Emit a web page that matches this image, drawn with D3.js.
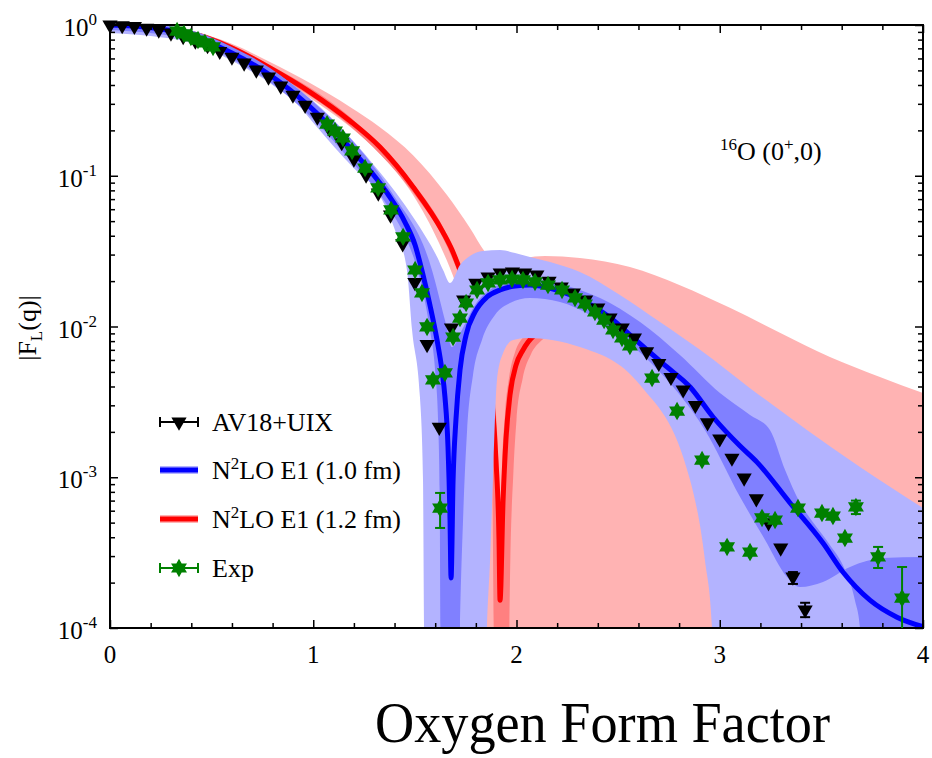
<!DOCTYPE html>
<html>
<head>
<meta charset="utf-8">
<script src="https://cdn.jsdelivr.net/npm/d3@7"></script>
<style>
body { margin: 0; background: #fff; }
text { font-family: "Liberation Serif", "Times New Roman", serif; fill: #000; }
</style>
</head>
<body>
<svg id="chart" width="932" height="758"></svg>
<script>
// tick labels
const xTicks = [0, 1, 2, 3, 4];
const yTicks = [1e-4, 1e-3, 1e-2, 1e-1, 1];
const yTickExp = ["-4", "-3", "-2", "-1", "0"];

// AV18+UIX points [q, |F|]
const av18 = [
  [0.00,1.0],[0.06,0.992],[0.12,0.980],[0.18,0.955],[0.24,0.927],[0.30,0.885],[0.36,0.839],
  [0.42,0.783],[0.48,0.731],[0.54,0.669],[0.60,0.613],[0.66,0.560],[0.72,0.503],[0.78,0.452],
  [0.84,0.394],[0.90,0.343],[0.96,0.294],[1.02,0.245],[1.08,0.204],[1.14,0.166],[1.20,0.129],
  [1.26,0.101],[1.32,0.077],[1.38,0.055],[1.44,0.0354],[1.50,0.0196],[1.56,0.0076],[1.62,0.00215],
  [1.68,0.0098],[1.74,0.015],[1.80,0.0194],[1.86,0.0213],[1.92,0.0227],[1.98,0.023],[2.04,0.0227],
  [2.10,0.022],[2.16,0.020],[2.22,0.0183],[2.28,0.0167],[2.34,0.015],[2.40,0.0133],[2.46,0.0114],
  [2.52,0.0098],[2.58,0.0084],[2.64,0.0068],[2.70,0.0057],[2.76,0.0046],[2.82,0.0038],[2.88,0.0030],
  [2.94,0.0023],[3.00,0.0018],[3.06,0.00134],[3.12,0.00099],[3.18,0.00072],[3.24,0.0005],
  [3.30,0.00034],[3.36,0.000218],[3.42,0.000132]
];
const av18Err = [[3.36,0.000196,0.000235],[3.42,0.000118,0.000147]];

// experimental points [q, |F|]
const expData = [
  [0.330,0.912],[0.364,0.872],[0.398,0.833],[0.433,0.795],[0.467,0.760],[0.507,0.715],
  [1.068,0.220],[1.107,0.198],[1.146,0.178],[1.191,0.146],[1.255,0.1125],[1.319,0.083],
  [1.383,0.0593],[1.442,0.0393],[1.501,0.0237],[1.535,0.0167],[1.560,0.00993],[1.589,0.00442],
  [1.648,0.00492],[1.624,0.000625],
  [1.688,0.00851],[1.722,0.01138],[1.752,0.01432],[1.806,0.01746],[1.860,0.01944],[1.919,0.02035],
  [1.978,0.02066],[2.032,0.02035],[2.091,0.01974],[2.155,0.01884],[2.224,0.01746],[2.288,0.01546],
  [2.337,0.0141],[2.386,0.01248],[2.431,0.01104],[2.475,0.00948],[2.519,0.00839],[2.558,0.00743],
  [2.667,0.00455],[2.790,0.00275],[2.913,0.0013],[3.036,0.000345],[3.149,0.000319],[3.208,0.000537],
  [3.272,0.00052],[3.385,0.000625],[3.503,0.000579],[3.557,0.000553],[3.616,0.000395],
  [3.670,0.000635],[3.779,0.000296],[3.897,0.000158]
];
const expErr = [[1.624,0.000461,0.000787],[3.670,0.00057,0.0007],[3.779,0.00025,0.000345],[3.897,0.00005,0.000254]];

// N2LO E1 (1.0 fm) central line and bands
const blueLine = [
  [0,1.0],[0.197,0.962],[0.394,0.858],[0.59,0.662],[0.787,0.466],[0.984,0.286],[1.181,0.153],
  [1.363,0.0769],[1.451,0.0493],[1.501,0.0347],[1.54,0.022],[1.574,0.0139],[1.609,0.00813],
  [1.633,0.00514],[1.648,0.00341],[1.663,0.00159],[1.673,0.00052],[1.678,0.000215],[1.688,0.00096],
  [1.702,0.0024],[1.722,0.00514],[1.752,0.00879],[1.796,0.01248],[1.855,0.0157],[1.919,0.01746],
  [1.993,0.01857],[2.066,0.01884],[2.14,0.01828],[2.214,0.01719],[2.312,0.01522],[2.475,0.01104],
  [2.558,0.00879],[2.642,0.00699],[2.74,0.00539],[2.854,0.00397],[2.967,0.00251],[3.1,0.00161],
  [3.183,0.00126],[3.346,0.000675],[3.508,0.000366],[3.606,0.000235],[3.739,0.000153],
  [3.872,0.000118],[4.0,0.000102]
];
const lbUpper = [
  [0,1.0],[0.2,0.98],[0.4,0.875],[0.6,0.69],[0.8,0.495],[1.033,0.286],[1.2,0.168],[1.3,0.117],
  [1.407,0.077],[1.5,0.051],[1.55,0.040],[1.609,0.029],[1.64,0.0235],[1.673,0.0194],[1.722,0.0256],
  [1.771,0.0294],[1.835,0.0317],[1.919,0.0322],[1.993,0.0307],[2.066,0.0289],[2.165,0.0268],
  [2.312,0.023],[2.509,0.0162],[2.706,0.0107],[2.903,0.007],[3.149,0.0039],[3.429,0.00206],
  [3.69,0.00117],[4.0,0.000625]
];
const lbLower = [
  [0,0.885],[0.2,0.845],[0.4,0.76],[0.6,0.58],[0.8,0.40],[0.935,0.286],[1.0,0.225],[1.2,0.112],
  [1.319,0.077],[1.402,0.0437],[1.461,0.0237],[1.486,0.0095],[1.525,0.0034],[1.54,0.00096],
  [1.545,0.0001],[1.555,3e-5],[1.845,3e-5],[1.855,0.0001],[1.870,0.000283],[1.884,0.00096],
  [1.904,0.00442],[1.934,0.00667],[1.983,0.00813],[2.052,0.00839],[2.312,0.00731],[2.608,0.00409],
  [2.854,0.00096],[2.927,0.000283],[2.962,0.0001],[2.975,3e-5],[4.0,3e-5]
];
const mbUpper = [
  [0,1.0],[0.2,1.0],[0.394,0.927],[0.59,0.726],[0.787,0.519],[0.984,0.323],[1.181,0.178],
  [1.387,0.077],[1.584,0.0237],[1.648,0.011],[1.683,0.0073],[1.732,0.0095],[1.796,0.0139],
  [1.870,0.0175],[1.968,0.0197],[2.066,0.0204],[2.214,0.0191],[2.411,0.01546],[2.608,0.0107],
  [2.804,0.00647],[3.001,0.00362],[3.149,0.00259],[3.247,0.00206],[3.321,0.00112],[3.395,0.000675],
  [3.469,0.000482],[3.542,0.000355],[3.616,0.000243],[3.665,0.000153],[3.69,0.0001],[3.71,3e-5],[4.0,3e-5]
];
const mbLower = [
  [0,0.927],[0.197,0.885],[0.394,0.795],[0.59,0.604],[0.787,0.419],[0.984,0.249],[1.181,0.127],
  [1.363,0.064],[1.451,0.0397],[1.501,0.0268],[1.54,0.0169],[1.574,0.0095],[1.60,0.005],
  [1.615,0.0022],[1.622,0.0008],[1.626,0.0001],[1.632,3e-5],[1.715,3e-5],[1.722,0.0001],
  [1.737,0.00052],[1.757,0.00206],[1.786,0.00477],[1.830,0.00813],[1.894,0.0119],[1.968,0.0143],
  [2.066,0.01546],[2.214,0.01455],[2.362,0.0119],[2.509,0.00865],[2.657,0.00582],[2.804,0.00351],
  [2.927,0.00206],[3.1,0.00074],[3.223,0.000384],[3.331,0.000218],[3.395,0.000187],[3.508,0.000202],
  [3.641,0.000254],[3.803,0.000291],[4.0,0.000296]
];

// N2LO E1 (1.2 fm) central line and bands
const redLine = [
  [0,1.0],[0.197,0.970],[0.394,0.885],[0.59,0.715],[0.787,0.519],[0.984,0.359],[1.181,0.231],
  [1.328,0.155],[1.491,0.0843],[1.638,0.0423],[1.683,0.0322],[1.722,0.0237],[1.796,0.01286],
  [1.845,0.00699],[1.879,0.00325],[1.899,0.0013],[1.914,0.000384],[1.919,0.000153],[1.934,0.000707],
  [1.948,0.00177],[1.968,0.00351],[1.998,0.00556],[2.032,0.00699],[2.057,0.00789],[2.14,0.00948],
  [2.312,0.0102],[2.509,0.0088],[2.903,0.0044],[3.395,0.0015],[4.0,0.00053]
];
const pinkUpper = [
  [0,1.0],[0.394,0.905],[0.59,0.760],[0.787,0.568],[0.984,0.412],[1.181,0.286],[1.328,0.210],
  [1.491,0.137],[1.658,0.0745],[1.771,0.045],[1.845,0.0312],[1.904,0.0258],
  [1.968,0.0256],[2.042,0.0285],[2.14,0.0294],[2.312,0.0285],[2.558,0.0248],[2.804,0.0188],
  [3.05,0.0133],[3.296,0.0091],[3.542,0.00628],[3.788,0.00463],[4.0,0.00362]
];
const pinkLower = [
  [0,0.97],[0.394,0.820],[0.59,0.662],[0.787,0.473],[0.984,0.328],[1.181,0.211],[1.328,0.140],
  [1.491,0.0744],[1.620,0.0355],[1.700,0.0195],[1.771,0.0095],[1.801,0.00325],[1.820,0.0007],
  [1.830,0.0001],[1.84,3e-5],[4.0,3e-5]
];
const darkPinkUpper = [
  [0,1.0],[0.394,0.912],[0.787,0.543],[1.181,0.245],[1.491,0.0894],[1.638,0.0457],[1.722,0.026],
  [1.796,0.0145],[1.845,0.0084],[1.879,0.00442],[1.904,0.00206],[1.914,0.00082],[1.921,0.000283],
  [1.929,0.00112],[1.943,0.00259],[1.963,0.00455],[1.993,0.00678],[2.032,0.0085],[2.14,0.011],
  [2.312,0.0119],[2.509,0.0102],[2.903,0.00514],[3.395,0.00177],[4.0,0.00061]
];
const darkPinkLower = [
  [0,0.97],[0.394,0.858],[0.787,0.488],[1.181,0.214],[1.491,0.077],[1.638,0.0387],[1.722,0.0213],
  [1.796,0.0114],[1.835,0.00678],[1.860,0.00351],[1.879,0.0013],[1.894,3e-5],[1.958,3e-5],
  [1.970,0.0003],[1.985,0.0011],[2.0,0.0024],[2.03,0.0045],[2.07,0.0065],[2.12,0.008],[2.2,0.0092],
  [2.312,0.0095],[2.509,0.0082],[2.903,0.0041],[3.395,0.0014],[4.0,0.0005]
];

const FONT = '"Liberation Serif", "Times New Roman", serif';
const svg = d3.select("#chart");
const pL = 110, pR = 923, pT = 25, pB = 628;
const x = d3.scaleLinear().domain([0, 4]).range([pL, pR]);
const y = d3.scaleLog().domain([1e-4, 1]).range([pB, pT]);

svg.append("defs").append("clipPath").attr("id", "plotclip")
  .append("rect").attr("x", pL).attr("y", pT).attr("width", pR - pL).attr("height", pB - pT);

const plot = svg.append("g").attr("clip-path", "url(#plotclip)");
const line = d3.line().x(d => x(d[0])).y(d => y(d[1])).curve(d3.curveMonotoneX);
// closed shape: upper edge left to right, lower edge back
function band(upper, lower) {
  return line(upper) + "L" + line(lower.slice().reverse()).slice(1) + "Z";
}

plot.append("path").attr("d", band(pinkUpper, pinkLower)).attr("fill", "#ffb3b3");
plot.append("path").attr("d", band(darkPinkUpper, darkPinkLower)).attr("fill", "#ff8080");
plot.append("path").attr("d", line(redLine)).attr("fill", "none")
  .attr("stroke", "#ff0000").attr("stroke-width", 5);
plot.append("path").attr("d", band(lbUpper, lbLower)).attr("fill", "#b3b3ff");
plot.append("path").attr("d", band(mbUpper, mbLower)).attr("fill", "#8080ff");
plot.append("path").attr("d", line(blueLine)).attr("fill", "none")
  .attr("stroke", "#0000ff").attr("stroke-width", 5);

// ticks, all four sides pointing in
const xMinor = d3.range(1, 20).map(i => i * 0.2).filter(v => Math.abs(v - Math.round(v)) > 1e-6);
const yMinor = [];
[-4, -3, -2, -1].forEach(e => { for (let k = 2; k <= 9; k++) yMinor.push(k * Math.pow(10, e)); });

function ticks(axis, tr) {
  svg.append("g").attr("transform", tr).call(axis)
    .call(g => g.select(".domain").remove())
    .call(g => g.selectAll("line").attr("stroke", "#000").attr("stroke-width", 1.5));
}
ticks(d3.axisBottom(x).tickValues(xTicks).tickSize(-8).tickFormat(""), `translate(0,${pB})`);
ticks(d3.axisBottom(x).tickValues(xMinor).tickSize(-5).tickFormat(""), `translate(0,${pB})`);
ticks(d3.axisTop(x).tickValues(xTicks).tickSize(-8).tickFormat(""), `translate(0,${pT})`);
ticks(d3.axisTop(x).tickValues(xMinor).tickSize(-5).tickFormat(""), `translate(0,${pT})`);
ticks(d3.axisLeft(y).tickValues(yTicks).tickSize(-8).tickFormat(""), `translate(${pL},0)`);
ticks(d3.axisLeft(y).tickValues(yMinor).tickSize(-5).tickFormat(""), `translate(${pL},0)`);
ticks(d3.axisRight(y).tickValues(yTicks).tickSize(-8).tickFormat(""), `translate(${pR},0)`);
ticks(d3.axisRight(y).tickValues(yMinor).tickSize(-5).tickFormat(""), `translate(${pR},0)`);

svg.append("rect").attr("x", pL).attr("y", pT).attr("width", pR - pL).attr("height", pB - pT)
  .attr("fill", "none").attr("stroke", "#000").attr("stroke-width", 2);

const txt = (sel, size) => sel.append("text").style("font-family", FONT).style("font-size", size + "px");

// tick labels
xTicks.forEach(v => txt(svg, 25).attr("x", x(v)).attr("y", 663).attr("text-anchor", "middle").text(v));
yTicks.forEach((v, i) => {
  const t = txt(svg, 25).attr("x", 97).attr("y", y(v) + 11).attr("text-anchor", "end");
  t.append("tspan").text("10");
  t.append("tspan").attr("dy", -11).style("font-size", "17px").text(yTickExp[i]);
});

// axis title
const yt = txt(svg, 26).attr("transform", "translate(36,328) rotate(-90)").attr("text-anchor", "middle");
yt.append("tspan").text("|F");
yt.append("tspan").attr("dy", 6).style("font-size", "17px").text("L");
yt.append("tspan").attr("dy", -6).text("(q)|");

// nucleus label
const nl = txt(svg, 26).attr("x", 720).attr("y", 160);
nl.append("tspan").attr("dy", -10).style("font-size", "17px").text("16");
nl.append("tspan").attr("dy", 10).text("O (0");
nl.append("tspan").attr("dy", -10).style("font-size", "17px").text("+");
nl.append("tspan").attr("dy", 10).text(",0)");

// markers
const tri = d3.symbol().type(d3.symbolTriangle).size(100);
const starType = {
  draw(ctx, size) {
    const R = Math.sqrt(size) / 2, r = R / Math.sqrt(3);
    for (let k = 0; k < 12; k++) {
      const a = -Math.PI / 2 + k * Math.PI / 6, rr = k % 2 ? r : R;
      if (k === 0) ctx.moveTo(rr * Math.cos(a), rr * Math.sin(a));
      else ctx.lineTo(rr * Math.cos(a), rr * Math.sin(a));
    }
    ctx.closePath();
  }
};
const star = d3.symbol().type(starType).size(340);

function errBars(g, data, color) {
  data.forEach(d => {
    const cx = x(d[0]);
    g.append("line").attr("x1", cx).attr("x2", cx).attr("y1", y(d[1])).attr("y2", y(d[2]))
      .attr("stroke", color).attr("stroke-width", 2);
    [d[1], d[2]].forEach(v => g.append("line").attr("x1", cx - 5).attr("x2", cx + 5)
      .attr("y1", y(v)).attr("y2", y(v)).attr("stroke", color).attr("stroke-width", 2));
  });
}
const marks = svg.append("g");
const errClip = marks.append("g").attr("clip-path", "url(#plotclip)");
errBars(errClip, av18Err, "#000");
marks.selectAll(".av").data(av18).enter().append("path")
  .attr("d", tri).attr("fill", "#000")
  .attr("transform", d => `translate(${x(d[0])},${y(d[1])}) rotate(180)`);
errBars(errClip, expErr, "#008000");
marks.selectAll(".ex").data(expData).enter().append("path")
  .attr("d", star).attr("fill", "#008000")
  .attr("transform", d => `translate(${x(d[0])},${y(d[1])})`);

// legend
const legY = [422, 470, 519, 568];
const lg = svg.append("g");
function capLine(cy, color) {
  lg.append("line").attr("x1", 160).attr("x2", 198).attr("y1", cy).attr("y2", cy).attr("stroke", color).attr("stroke-width", 2);
  [160, 198].forEach(cx => lg.append("line").attr("x1", cx).attr("x2", cx).attr("y1", cy - 5).attr("y2", cy + 5)
    .attr("stroke", color).attr("stroke-width", 2));
}
capLine(legY[0], "#000");
lg.append("path").attr("d", tri).attr("fill", "#000").attr("transform", `translate(179,${legY[0]}) rotate(180)`);
[[legY[1], "#b3b3ff", "#0000ff"], [legY[2], "#ffb3b3", "#ff0000"]].forEach(r => {
  lg.append("line").attr("x1", 160).attr("x2", 198).attr("y1", r[0]).attr("y2", r[0]).attr("stroke", r[1]).attr("stroke-width", 8);
  lg.append("line").attr("x1", 160).attr("x2", 198).attr("y1", r[0]).attr("y2", r[0]).attr("stroke", r[2]).attr("stroke-width", 5);
});
capLine(legY[3], "#008000");
lg.append("path").attr("d", star).attr("fill", "#008000").attr("transform", `translate(179,${legY[3]})`);

txt(lg, 26).attr("x", 212).attr("y", legY[0] + 9).text("AV18+UIX");
["(1.0 fm)", "(1.2 fm)"].forEach((s, i) => {
  const t = txt(lg, 26).attr("x", 212).attr("y", legY[i + 1] + 9);
  t.append("tspan").text("N");
  t.append("tspan").attr("dy", -10).style("font-size", "17px").text("2");
  t.append("tspan").attr("dy", 10).text("LO E1 " + s);
});
txt(lg, 26).attr("x", 212).attr("y", legY[3] + 9).text("Exp");

// title
txt(svg, 57).attr("x", 375).attr("y", 742).attr("textLength", 455).attr("lengthAdjust", "spacingAndGlyphs")
  .text("Oxygen Form Factor");
</script>
</body>
</html>
